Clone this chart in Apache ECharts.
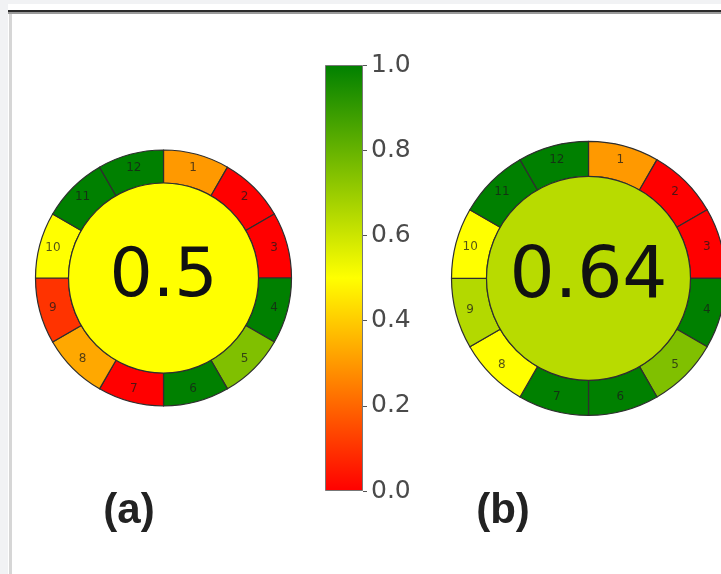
<!DOCTYPE html>
<html>
<head>
<meta charset="utf-8">
<script src="https://cdn.jsdelivr.net/npm/echarts@6/dist/echarts.min.js"></script>
<style>
  html, body { margin: 0; padding: 0; background: #f1f2f4; }
  #chart { width: 721px; height: 574px; }
</style>
</head>
<body>
<div id="chart"></div>
<script>
// Twelve principle segments around each pictogram
const segmentNames = ['1', '2', '3', '4', '5', '6', '7', '8', '9', '10', '11', '12'];
// Per-principle scores (0 = red, 0.5 = yellow, 1 = green)
const scoresA = [0.30, 0.00, 0.00, 1.00, 0.75, 1.00, 0.00, 0.33, 0.10, 0.50, 1.00, 1.00];
const scoresB = [0.30, 0.00, 0.00, 1.00, 0.75, 1.00, 1.00, 0.50, 0.65, 0.50, 1.00, 1.00];
// Overall scores shown in the middle
const totals = [0.5, 0.64];
const panelLabels = ['(a)', '(b)'];
// Red -> yellow -> green colour scale
const colormap = ['#ff0000', '#ffff00', '#008000'];
const colorbarRange = [0, 1];
const colorbarStep = 0.2;

const scoreColor = v => echarts.color.lerp(v, colormap);

const chart = echarts.init(document.getElementById('chart'), null, { renderer: 'canvas' });

function ringSeries(center, radii, scores) {
  return {
    type: 'pie',
    center: center,
    radius: radii,
    startAngle: 90,
    clockwise: true,
    silent: true,
    animation: false,
    avoidLabelOverlap: false,
    label: {
      show: true,
      position: 'inside',
      formatter: '{b}',
      fontFamily: 'DejaVu Sans',
      fontSize: 12,
      color: 'rgba(25,25,25,0.75)'
    },
    labelLine: { show: false },
    itemStyle: { borderColor: '#2e2e2e', borderWidth: 1.2 },
    emphasis: { disabled: true },
    data: segmentNames.map((n, i) => ({
      name: n,
      value: 1,
      itemStyle: { color: scoreColor(scores[i]) }
    }))
  };
}

function coreSeries(center, radius, total, fontSize) {
  return {
    type: 'pie',
    center: center,
    radius: [0, radius],
    silent: true,
    animation: false,
    label: {
      show: true,
      position: 'center',
      formatter: String(total),
      fontFamily: 'DejaVu Sans',
      fontSize: fontSize,
      color: '#111',
      padding: [0, 0, 12, 0]
    },
    labelLine: { show: false },
    itemStyle: { color: scoreColor(total), borderColor: '#2e2e2e', borderWidth: 1.2 },
    emphasis: { disabled: true },
    data: [{ name: 'total', value: 1 }]
  };
}

const gradientStops = colormap.map((c, i) => ({ offset: i / (colormap.length - 1), color: c }));

const option = {
  backgroundColor: '#f1f2f4',
  animation: false,
  graphic: [
    // panel frame
    { type: 'rect', z: -10, shape: { x: 8, y: 4, width: 713, height: 570 }, style: { fill: '#ffffff' } },
    { type: 'rect', z: -9, shape: { x: 8, y: 10, width: 713, height: 2 }, style: { fill: '#2a2a2a' } },
    { type: 'rect', z: -9, shape: { x: 8, y: 12, width: 713, height: 2 }, style: { fill: '#9a9a9a' } },
    { type: 'rect', z: -9, shape: { x: 9, y: 14, width: 3, height: 560 }, style: { fill: '#d6d6d6' } },
    // panel captions
    { type: 'text', x: 129, y: 511, style: { text: panelLabels[0], font: 'bold 42px "Liberation Sans"', fill: '#222', align: 'center', verticalAlign: 'middle' } },
    { type: 'text', x: 503, y: 511, style: { text: panelLabels[1], font: 'bold 42px "Liberation Sans"', fill: '#222', align: 'center', verticalAlign: 'middle' } }
  ],
  grid: { left: 325, top: 65, width: 38, height: 426 },
  xAxis: { type: 'category', data: [''], show: false },
  yAxis: {
    type: 'value',
    position: 'right',
    min: colorbarRange[0],
    max: colorbarRange[1],
    interval: colorbarStep,
    splitLine: { show: false },
    axisLine: { show: false },
    axisTick: { show: true, length: 4, lineStyle: { color: '#555', width: 1 } },
    axisLabel: {
      margin: 8,
      fontFamily: 'DejaVu Sans',
      fontSize: 25,
      color: '#4a4a4a',
      formatter: v => v.toFixed(1)
    }
  },
  series: [
    {
      type: 'bar',
      barWidth: '100%',
      silent: true,
      data: [colorbarRange[1]],
      itemStyle: {
        color: new echarts.graphic.LinearGradient(0, 1, 0, 0, gradientStops),
        borderColor: '#777',
        borderWidth: 1
      }
    },
    ringSeries([163.5, 278], [95, 128], scoresA),
    coreSeries([163.5, 278], 95, totals[0], 68),
    ringSeries([588.5, 278.3], [102, 137], scoresB),
    coreSeries([588.5, 278.3], 102, totals[1], 71)
  ]
};

chart.setOption(option);
</script>
</body>
</html>
